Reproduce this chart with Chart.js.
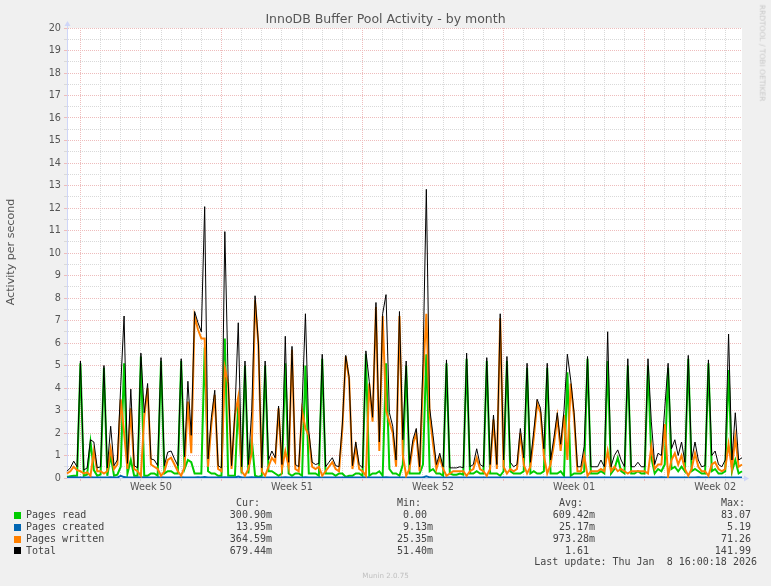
<!DOCTYPE html>
<html><head><meta charset="utf-8">
<script src="https://cdn.jsdelivr.net/npm/chart.js@4/dist/chart.umd.min.js"></script>
<style>
html,body{margin:0;padding:0;background:#f0f0f0;}
#wrap{position:relative;width:771px;height:586px;overflow:hidden;background:#f0f0f0;font-family:'DejaVu Sans',sans-serif;}
#c{position:absolute;left:0;top:0;}
.t{position:absolute;white-space:pre;line-height:1;}
.mono{font-family:'DejaVu Sans Mono',monospace;font-size:10px;color:#444;}
.sw{position:absolute;width:7px;height:7px;}
</style></head><body>
<div id="wrap">
<canvas id="c" width="771" height="586"></canvas>
<div class="t" id="title" style="left:385.5px;top:19px;transform:translate(-50%,-50%);font-size:12.5px;color:#555;">InnoDB Buffer Pool Activity - by month</div>
<div class="t" id="ytitle" style="left:11px;top:252px;transform:translate(-50%,-50%) rotate(-90deg);font-size:11.1px;color:#555;">Activity per second</div>
<div class="t" id="wm" style="left:762px;top:53px;transform:translate(-50%,-50%) rotate(90deg);font-size:7.5px;color:#c8c8c8;">RRDTOOL / TOBI OETIKER</div>
<div class="t" id="munin" style="left:385.5px;top:576px;transform:translate(-50%,-50%);font-size:7.1px;color:#c0c0c0;">Munin 2.0.75</div>
<div id="legend"></div>
</div>
<script>
// ---- data (4-hour slots, 202 slots) ----
const weekLabels = ['Week 50','Week 51','Week 52','Week 01','Week 02'];

const pagesRead = [
 .05,.08,.10,.10,5.1,.10,.15,1.6,.35,.10,
 .15,4.9,.10,1.0,.10,.15,.5,5.1,.2,.8,
 .10,.10,5.4,.10,.10,.2,.2,.10,5.2,.2,
 .3,.3,.2,.2,5.2,.4,.8,.7,.2,.2,
 .2,5.8,.3,.2,.2,.1,.1,6.2,.1,.1,
 .1,3.3,.2,5.0,.2,1.75,.1,.05,.1,5.0,
 .3,.3,.2,.1,.2,5.1,.2,.1,.2,.2,
 .1,5.0,.2,.2,.2,.1,5.3,.2,.2,.2,
 .1,.2,.2,.05,.1,.1,.2,.2,.1,5.5,
 .1,.2,.2,.3,.1,5.1,.4,.2,.2,.1,
 .6,5.0,.2,.2,.2,.2,.6,5.5,.3,.4,
 .2,.2,.1,5.1,.2,.15,.15,.2,.15,5.3,
 .2,.2,.3,.2,.2,5.2,.2,.2,.2,.1,
 .3,5.2,.3,.2,.2,.2,.3,4.9,.2,.3,
 .2,.2,.3,4.9,.2,.2,.2,.3,.1,4.7,
 .1,.2,.2,.2,.3,5.3,.2,.2,.2,.3,
 .2,5.2,.2,.4,.9,.3,.2,5.0,.2,.2,
 .3,.2,.2,5.0,.9,.2,.4,.3,.6,4.9,
 .4,.5,.3,.5,.3,5.3,.3,.4,.3,.2,
 .2,5.1,.3,.4,.2,.2,.3,4.8,.3,.8,
 .2,.3
];

const pagesCreated = [
 .02,.02,.03,.02,.02,.02,.02,.03,.02,.02,
 .02,.02,.02,.03,.02,.02,.10,.04,.02,.02,
 .02,.02,.03,.02,.02,.02,.02,.02,.03,.02,
 .02,.02,.02,.02,.03,.02,.02,.02,.02,.03,
 .02,.04,.02,.02,.02,.02,.02,.03,.02,.02,
 .02,.06,.02,.02,.02,.03,.02,.02,.02,.02,
 .02,.02,.02,.02,.02,.03,.02,.02,.02,.02,
 .02,.03,.02,.02,.02,.02,.02,.02,.02,.02,
 .02,.02,.02,.02,.02,.02,.02,.02,.02,.03,
 .02,.02,.02,.02,.02,.03,.02,.02,.02,.02,
 .02,.02,.02,.02,.02,.02,.02,.08,.03,.02,
 .02,.02,.02,.02,.02,.02,.02,.02,.02,.02,
 .02,.02,.02,.02,.02,.02,.02,.02,.02,.02,
 .02,.02,.02,.02,.02,.02,.02,.02,.02,.02,
 .02,.02,.02,.02,.02,.02,.02,.02,.02,.02,
 .02,.02,.02,.02,.02,.02,.02,.02,.02,.02,
 .02,.02,.02,.02,.02,.02,.02,.02,.02,.02,
 .02,.02,.02,.02,.02,.02,.02,.03,.02,.02,
 .02,.02,.02,.02,.02,.02,.02,.02,.03,.02,
 .02,.02,.02,.02,.02,.02,.02,.02,.02,.02,
 .02,.02
];

const pagesWritten = [
 .2,.3,.5,.35,.3,.2,.25,.1,1.2,.3,
 .3,.2,.3,1.3,.4,.6,3.5,2.0,.4,3.1,
 .4,.3,.1,2.7,4.0,.6,.5,.4,.1,.3,
 .8,.9,.6,.3,.1,.5,3.4,1.1,7.2,6.6,
 6.2,6.2,.5,2.4,3.7,.4,.3,4.9,4.2,.4,
 2.8,3.6,.3,.1,.4,1.1,7.9,5.9,.3,.1,
 .5,.9,.7,3.1,.4,1.2,.5,5.7,.4,.3,
 3.0,2.2,1.9,.5,.4,.5,.1,.3,.5,.7,
 .4,.3,2.2,5.4,4.4,.4,1.4,.4,.3,.1,
 4.2,2.5,7.6,1.2,7.2,3.0,2.5,2.0,.5,7.2,
 1.0,.1,.4,1.5,2.0,.3,4.4,7.3,2.8,1.5,
 .4,.9,.4,.1,.2,.3,.3,.3,.3,.1,
 .3,.4,.9,.4,.3,.1,.4,2.6,.4,7.1,
 .5,.2,.4,.3,.4,2.0,.6,.2,.5,1.8,
 3.3,2.9,1.0,.2,.6,1.5,2.7,1.2,2.8,.8,
 4.2,2.7,.3,.3,1.0,.1,.3,.3,.3,.4,
 .3,1.2,.3,.5,.3,.4,.3,.2,.3,.3,
 .3,.3,.3,.2,1.4,.4,.6,.6,2.4,.1,
 .8,1.1,.6,1.0,.4,.1,.4,1.1,.5,.3,
 .3,.1,.6,.7,.4,.3,.4,1.5,.4,1.8,
 .5,.6
];

const totalActivity = [
 .3,.45,.75,.5,5.2,.35,.45,1.7,1.6,.45,
 .5,5.0,.45,2.3,.55,.8,4.1,7.2,.65,3.95,
 .55,.45,5.55,2.9,4.2,.85,.8,.55,5.35,.55,
 1.15,1.2,.85,.55,5.3,.95,4.3,1.9,7.4,6.9,
 6.5,12.06,.85,2.7,3.9,.55,.45,10.95,4.3,.55,
 2.9,6.9,.5,5.2,.6,2.95,8.1,6.0,.45,5.2,
 .8,1.2,.9,3.2,.6,6.3,.7,5.85,.6,.5,
 3.2,7.3,2.1,.7,.6,.65,5.5,.5,.7,.9,
 .55,.5,2.4,5.45,4.5,.55,1.6,.6,.45,5.65,
 4.3,2.7,7.8,1.6,7.3,8.15,2.9,2.3,.8,7.4,
 1.7,5.2,.6,1.7,2.2,.5,5.1,12.83,3.1,1.9,
 .6,1.1,.5,5.25,.45,.45,.45,.5,.45,5.55,
 .5,.6,1.3,.6,.5,5.35,.6,2.8,.6,7.3,
 .8,5.4,.7,.5,.6,2.2,.9,5.1,.7,2.1,
 3.5,3.1,1.3,5.1,.8,1.8,2.9,1.5,3.0,5.5,
 4.35,2.9,.5,.5,1.4,5.4,.5,.5,.5,.8,
 .5,6.5,.5,1.0,1.25,.8,.5,5.3,.5,.5,
 .7,.5,.5,5.3,2.5,.6,1.1,1.0,3.1,5.1,
 1.3,1.7,1.0,1.6,.7,5.45,.8,1.6,.8,.5,
 .55,5.25,1.0,1.2,.6,.5,.8,6.4,.8,2.9,
 .8,.9
];

const seriesNames  = ['Pages read','Pages created','Pages written','Total'];
const seriesColors = ['#00cc00','#0066b3','#ff8000','#000000'];
const curVals = ['300.90m','13.95m','364.59m','679.44m'];
const minVals = ['0.00 ','9.13m','25.35m','51.40m'];
const avgVals = ['609.42m','25.17m','973.28m','1.61 '];
const maxVals = ['83.07 ','5.19 ','71.26 ','141.99 '];
const lastUpdate = 'Last update: Thu Jan  8 16:00:18 2026';

// slot labels (4-hour steps)
const slotLabels = pagesRead.map((_, i) => (i * 4) + 'h');
const FIRST_WEEK_SLOT = 4, SLOTS_PER_DAY = 6, SLOTS_PER_WEEK = 42;

function weekLabelAt(i) {
  const k = i - FIRST_WEEK_SLOT - SLOTS_PER_WEEK / 2;
  if (k >= 0 && k % SLOTS_PER_WEEK === 0) return weekLabels[k / SLOTS_PER_WEEK] || '';
  return '';
}
const MGRID = '#eebcbc';
const GRID = '#d9d9d9';
const AXIS = '#CFD6F8';

const bgPlugin = {
  id: 'bg',
  beforeDraw(chart) {
    const {ctx, chartArea: a} = chart;
    ctx.save();
    ctx.fillStyle = '#ffffff';
    ctx.fillRect(a.left, a.top, a.right - a.left, a.bottom - a.top);
    ctx.restore();
  }
};
const arrowPlugin = {
  id: 'arrows',
  afterDraw(chart) {
    const {ctx, chartArea: a} = chart;
    ctx.save();
    ctx.strokeStyle = AXIS; ctx.fillStyle = AXIS; ctx.lineWidth = 1;
    ctx.beginPath();
    ctx.moveTo(a.left + 0.5, a.top); ctx.lineTo(a.left + 0.5, a.top - 3);
    ctx.moveTo(a.right, a.bottom + 0.5); ctx.lineTo(a.right + 3, a.bottom + 0.5);
    ctx.stroke();
    ctx.beginPath();
    ctx.moveTo(a.left + 0.5, a.top - 7); ctx.lineTo(a.left - 2.5, a.top - 2); ctx.lineTo(a.left + 3.5, a.top - 2); ctx.closePath();
    ctx.fill();
    ctx.beginPath();
    ctx.moveTo(a.right + 7, a.bottom + 0.5); ctx.lineTo(a.right + 2, a.bottom - 2.5); ctx.lineTo(a.right + 2, a.bottom + 3.5); ctx.closePath();
    ctx.fill();
    ctx.restore();
  }
};

new Chart(document.getElementById('c'), {
  type: 'line',
  data: {
    labels: slotLabels,
    datasets: [
      {label: seriesNames[0], data: pagesRead, borderColor: seriesColors[0], borderWidth: 2, order: 3},
      {label: seriesNames[1], data: pagesCreated, borderColor: seriesColors[1], borderWidth: 2, order: 2},
      {label: seriesNames[2], data: pagesWritten, borderColor: seriesColors[2], borderWidth: 2, order: 1},
      {label: seriesNames[3], data: totalActivity, borderColor: seriesColors[3], borderWidth: 1, order: 0}
    ]
  },
  options: {
    responsive: false,
    animation: false,
    layout: {padding: {left: 0, right: 29, top: 28, bottom: 0}},
    elements: {point: {radius: 0}, line: {tension: 0, fill: false}},
    plugins: {legend: {display: false}, tooltip: {enabled: false}, title: {display: false}},
    scales: {
      x: {
        type: 'category', offset: false,
        ticks: {autoSkip: false, maxRotation: 0, minRotation: 0, padding: 1, color: '#555',
                font: {family: 'DejaVu Sans', size: 9.7},
                callback: (v, i) => weekLabelAt(i)},
        grid: {
          tickLength: 3, lineWidth: 1,
          color: (c) => {
            const d = c.index - FIRST_WEEK_SLOT;
            if (d >= 0 && d % SLOTS_PER_WEEK === 0) return MGRID;
            if (d >= 0 && d % SLOTS_PER_DAY === 0) return GRID;
            return 'rgba(0,0,0,0)';
          }
        },
        border: {color: AXIS, width: 1, dash: [1, 1]},
        afterFit: (s) => { s.height = 108; }
      },
      y: {
        min: 0, max: 20,
        ticks: {stepSize: 0.5, autoSkip: false, padding: 3, color: '#555',
                font: {family: 'DejaVu Sans', size: 9.7},
                callback: (v) => Number.isInteger(v) ? String(v) : ''},
        grid: {
          tickLength: 3, lineWidth: 1,
          color: (c) => (c.tick && Number.isInteger(c.tick.value)) ? MGRID : GRID
        },
        border: {color: AXIS, width: 1, dash: [1, 1]},
        afterFit: (s) => { s.width = 67; }
      }
    }
  },
  plugins: [bgPlugin, arrowPlugin]
});

// ---- legend ----
const leg = document.getElementById('legend');
function addText(txt, left, top, alignRight) {
  const d = document.createElement('div');
  d.className = 't mono';
  d.textContent = txt;
  d.style.top = top + 'px';
  if (alignRight) { d.style.right = (771 - left) + 'px'; } else { d.style.left = left + 'px'; }
  leg.appendChild(d);
}
const headerTop = 498;
addText('Cur:', 236, headerTop);
addText('Min:', 397, headerTop);
addText('Avg:', 559, headerTop);
addText('Max:', 721, headerTop);
const rowTops = [510, 522, 534, 545.5];
seriesNames.forEach((n, i) => {
  const sw = document.createElement('div');
  sw.className = 'sw';
  sw.style.left = '14px';
  sw.style.top = (rowTops[i] + 1.5) + 'px';
  sw.style.background = seriesColors[i];
  leg.appendChild(sw);
  addText(n, 26, rowTops[i]);
  addText(curVals[i], 272, rowTops[i], true);
  addText(minVals[i], 433, rowTops[i], true);
  addText(avgVals[i], 595, rowTops[i], true);
  addText(maxVals[i], 757, rowTops[i], true);
});
addText(lastUpdate, 757, 557, true);
</script>
</body></html>
